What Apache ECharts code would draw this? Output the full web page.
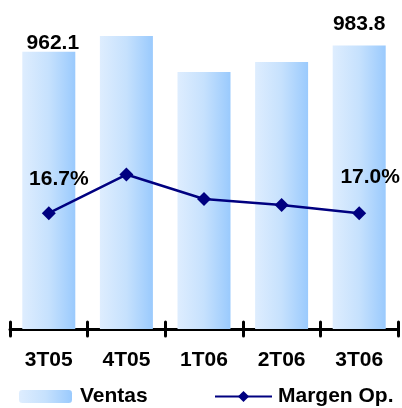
<!DOCTYPE html>
<html>
<head>
<meta charset="utf-8">
<script src="https://cdn.jsdelivr.net/npm/echarts@6/dist/echarts.min.js"></script>
<style>
  html, body { margin: 0; padding: 0; background: #fff; }
  #chart { width: 402px; height: 408px; }
</style>
</head>
<body>
<div id="chart"></div>
<script>
// datos
let quarters = ['3T05', '4T05', '1T06', '2T06', '3T06'];
let ventas = [962.1, 1016.7, 891.8, 926.5, 983.8];
let margen = [16.7, 18.6, 17.4, 17.1, 16.7];
let ventasLabels = ['962.1', '', '', '', '983.8'];
let margenLabels = ['16.7%', '', '', '', '17.0%'];

let myChart = echarts.init(document.getElementById('chart'));

let barColor = new echarts.graphic.LinearGradient(0, 0, 1, 0, [
  { offset: 0, color: '#deedfe' },
  { offset: 0.5, color: '#c6e1fd' },
  { offset: 1, color: '#9acafd' }
]);

let font = 'Liberation Sans, Arial, sans-serif';

// offsets de las etiquetas, solo primera y ultima
let barLabelOffset = [[4, 2], null, null, null, [0, -11]];
let lineLabelOffset = [[10, -34], null, null, null, [11, -36]];

let barData = ventas.map(function (v, i) {
  let item = { value: v };
  if (ventasLabels[i]) {
    item.label = {
      show: true,
      position: 'top',
      distance: 0,
      offset: barLabelOffset[i],
      formatter: ventasLabels[i]
    };
  }
  return item;
});

let lineData = margen.map(function (v, i) {
  let item = { value: v };
  if (margenLabels[i]) {
    item.label = {
      show: true,
      position: 'inside',
      offset: lineLabelOffset[i],
      formatter: margenLabels[i]
    };
  }
  return item;
});

let legendText = { fontFamily: font, fontSize: 21, fontWeight: 'bold', color: '#000' };

let option = {
  animation: false,
  grid: { left: 10, right: 4, top: 12, bottom: 79 },
  legend: [
    {
      data: [{ name: 'Ventas' }],
      left: 19, top: 386, padding: 0,
      itemWidth: 53, itemHeight: 13, itemGap: 0,
      textStyle: Object.assign({ padding: [0, 0, 0, 3] }, legendText)
    },
    {
      data: [{ name: 'Margen Op.' }],
      left: 214, top: 386, padding: 0,
      itemWidth: 57, itemHeight: 14, itemGap: 0,
      textStyle: Object.assign({ padding: [0, 0, 0, 1] }, legendText)
    }
  ],
  xAxis: [
    {
      type: 'category',
      data: quarters,
      boundaryGap: true,
      axisLine: { lineStyle: { color: '#000', width: 3, cap: 'round' } },
      axisTick: { show: true, inside: false, length: 7, lineStyle: { color: '#000', width: 3, cap: 'round' } },
      axisLabel: { color: '#000', fontFamily: font, fontSize: 21, fontWeight: 'bold', margin: 21 }
    },
    {
      type: 'category',
      data: quarters,
      position: 'bottom',
      boundaryGap: true,
      axisLine: { show: false },
      axisTick: { show: true, inside: true, length: 7, lineStyle: { color: '#000', width: 3, cap: 'round' } },
      axisLabel: { show: false }
    }
  ],
  yAxis: [
    { type: 'value', min: 0, max: 1100, show: false, splitLine: { show: false } },
    { type: 'value', min: 11, max: 26.6, show: false, splitLine: { show: false } }
  ],
  series: [
    {
      name: 'Ventas',
      type: 'bar',
      barWidth: 53,
      itemStyle: { color: barColor },
      label: { color: '#000', fontFamily: font, fontSize: 21, fontWeight: 'bold' },
      data: barData
    },
    {
      name: 'Margen Op.',
      type: 'line',
      yAxisIndex: 1,
      symbol: 'diamond',
      symbolSize: 14,
      lineStyle: { color: '#000080', width: 2.5 },
      itemStyle: { color: '#000080' },
      label: { color: '#000', fontFamily: font, fontSize: 21, fontWeight: 'bold' },
      data: lineData
    }
  ]
};

myChart.setOption(option);
</script>
</body>
</html>
